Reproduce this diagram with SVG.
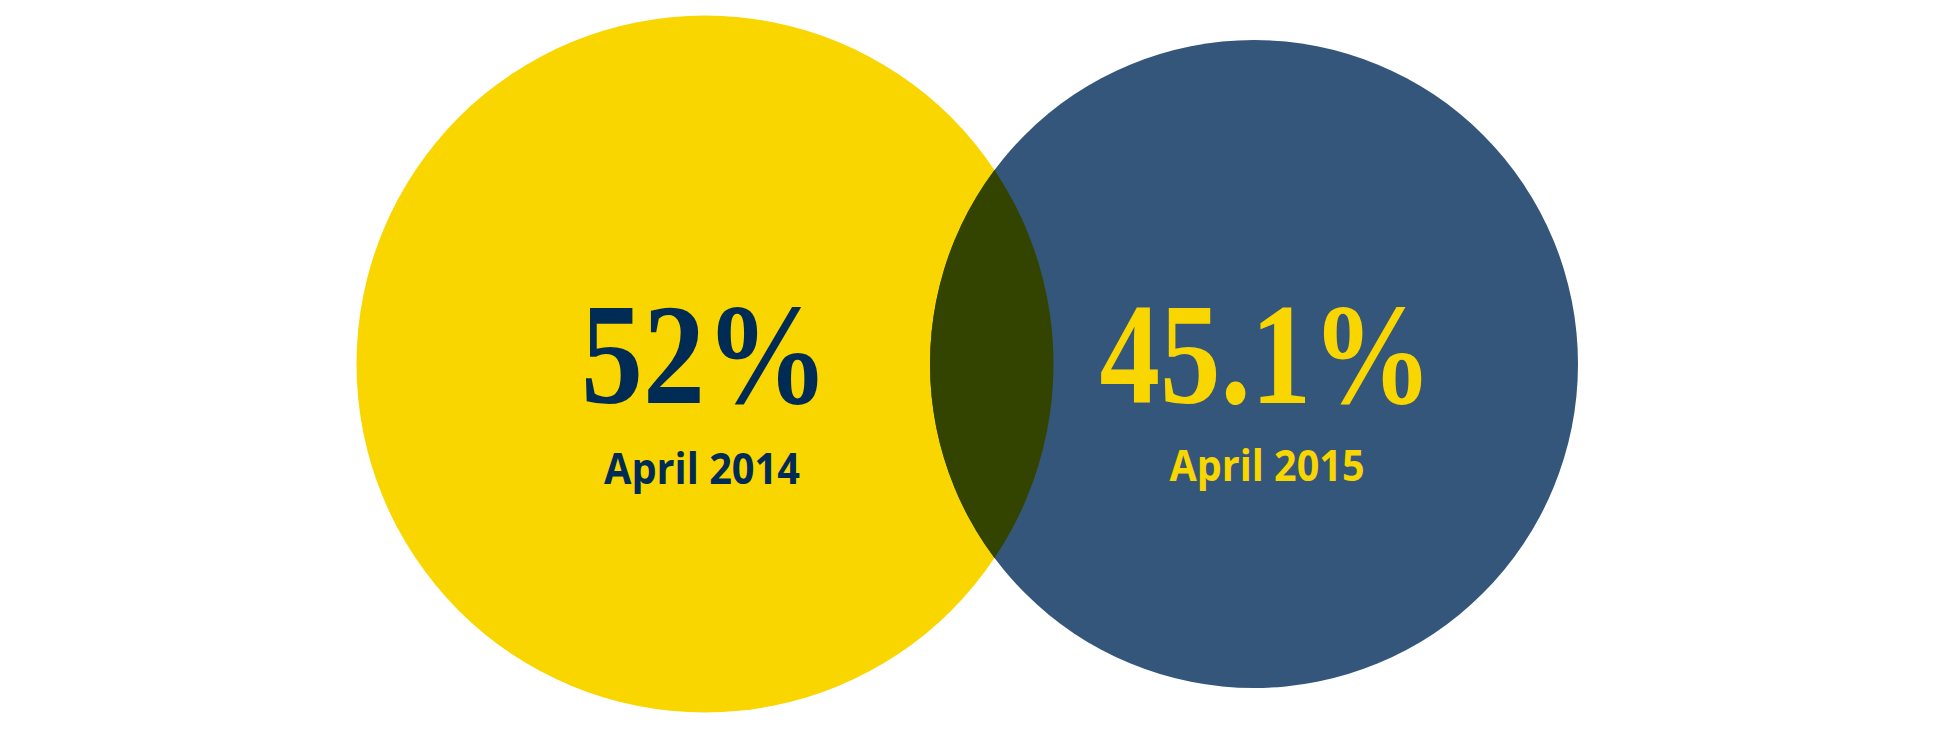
<svg xmlns="http://www.w3.org/2000/svg" width="1936" height="732" viewBox="0 0 1936 732">
  <style>
    .num { font-family: "Liberation Serif", "Times New Roman", serif; font-weight: 700; font-size: 143px; text-anchor: middle; }
    .date { font-family: "Open Sans", "Liberation Sans", sans-serif; font-weight: 700; font-size: 43px; text-anchor: middle; }
    .navy { fill: #002B55; }
    .gold { fill: #F9D600; }
  </style>
  <defs>
    <clipPath id="blueClip">
      <circle cx="1254" cy="364" r="324"/>
    </clipPath>
  </defs>
  <rect width="1936" height="732" fill="#FFFFFF"/>
  <g id="circle-2014">
    <circle cx="705" cy="364" r="348.5" fill="#F9D600"/>
  </g>
  <g id="circle-2015">
    <circle cx="1254" cy="364" r="324" fill="#34567A"/>
  </g>
  <g id="overlap">
    <circle cx="705" cy="364" r="348.5" fill="#334400" clip-path="url(#blueClip)"/>
  </g>
  <g id="label-2014">
    <text class="num navy" x="705" y="403" textLength="248" lengthAdjust="spacingAndGlyphs">52%</text>
    <text class="date navy" x="702" y="484" textLength="196" lengthAdjust="spacingAndGlyphs">April 2014</text>
  </g>
  <g id="label-2015">
    <text class="num gold" x="1266" y="403" textLength="333" lengthAdjust="spacingAndGlyphs">45.1%</text>
    <text class="date gold" x="1267" y="481" textLength="195" lengthAdjust="spacingAndGlyphs">April 2015</text>
  </g>
  <g id="connectors"/>
</svg>
